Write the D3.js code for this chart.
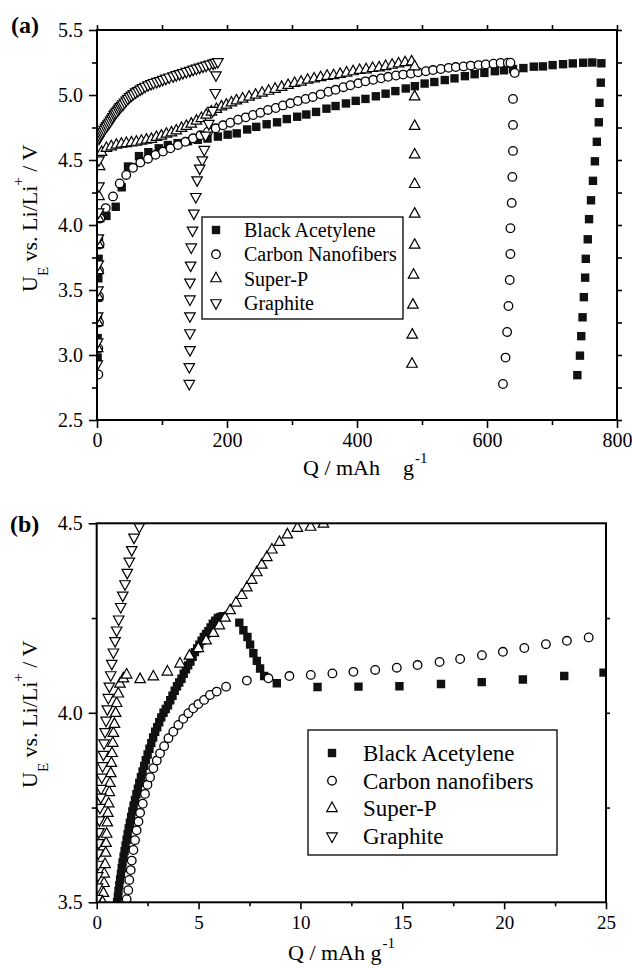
<!DOCTYPE html>
<html><head><meta charset="utf-8">
<script src="https://cdn.jsdelivr.net/npm/d3@7"></script>
<style>
body{margin:0;background:#fff}
svg text{font-family:"Liberation Serif","Times New Roman",serif;fill:#000}
</style>
</head><body>
<svg id="c" width="632" height="968"></svg>
<script>
// ---------------- DATA ----------------
const legendNamesA = ["Black Acetylene","Carbon Nanofibers","Super-P","Graphite"];
const legendNamesB = ["Black Acetylene","Carbon nanofibers","Super-P","Graphite"];
const xTicksA = [0,200,400,600,800];
const yTicksA = [2.5,3.0,3.5,4.0,4.5,5.0,5.5];
const xTicksB = [0,5,10,15,20,25];
const yTicksB = [3.5,4.0,4.5];

// Panel (a): [Q (mAh/g), U (V)]
const aBlack = [[1,2.98],[1,3.13],[1.5,3.29],[2,3.44],[2,3.59],[2.5,3.74],[3,3.89],[14.5,4.07],[28.8,4.14],[38,4.29],[47.7,4.45],[64.6,4.53],[79,4.56],[95,4.59],[109,4.615],[124,4.63],[140,4.645],[155,4.655],[170,4.665],[186,4.68],[201,4.695],[215,4.705],[231,4.735],[245,4.755],[261,4.775],[277,4.79],[292,4.815],[308,4.833],[322,4.85],[337,4.87],[353,4.895],[367,4.915],[383,4.935],[398,4.955],[413,4.97],[429,4.99],[444,5.01],[459,5.03],[475,5.05],[489,5.068],[504,5.088],[519,5.10],[535,5.115],[550,5.128],[566,5.145],[581,5.16],[596,5.17],[612,5.183],[626,5.19],[640,5.2],[656,5.207],[672,5.218],[686,5.22],[701,5.23],[717,5.237],[732,5.243],[748,5.248],[762,5.25],[776,5.244],
 [775,5.095],[773,4.94],[772,4.79],[769,4.64],[766,4.49],[763,4.34],[760,4.19],[757,4.045],[755,3.89],[752,3.74],[751,3.595],[749,3.445],[747,3.29],[745,3.145],[743,2.995],[739,2.845]];
const aCarbon = [[2,2.85],[2,3.05],[3,3.25],[3,3.45],[3,3.65],[4,3.85],[5,4.05],[13.4,4.13],[24.6,4.22],[35,4.32],[45,4.385],[55.4,4.44],[66.7,4.48],[78.5,4.51],[90,4.54],[101.5,4.565],[113,4.59],[124.6,4.615],[136,4.64],[147.7,4.667],[159,4.69],[170.8,4.718],[182.6,4.744],[193.8,4.767],[205,4.787],[217,4.81],[228.8,4.828],[240,4.846],[251.4,4.864],[263,4.885],[275,4.90],[286,4.92],[297.5,4.936],[309,4.954],[321,4.97],[332,4.985],[344,5.005],[356,5.025],[367,5.04],[379,5.06],[390,5.075],[402,5.09],[413,5.105],[425,5.117],[437,5.128],[448,5.14],[460,5.15],[471,5.157],[483,5.165],[494,5.175],[506,5.183],[517,5.192],[529,5.20],[541,5.209],[552,5.215],[564,5.22],[575,5.226],[587,5.23],[598,5.235],[610,5.241],[621,5.246],[632,5.248],[636,5.248],
 [642.6,5.17],[640,4.97],[640,4.77],[640,4.57],[639,4.37],[638,4.17],[636,3.975],[636,3.777],[635,3.577],[633,3.377],[631,3.177],[628.5,2.98],[624.6,2.777]];
const aSuperP = [[1,3.05],[1,3.25],[1.5,3.45],[2,3.65],[2,3.85],[2.5,4.05],[3,4.22],[4,4.45],[7,4.56],[14.5,4.59],[22,4.603],[29.8,4.615],[37.5,4.623],[45.2,4.628],[52.9,4.633],[60.6,4.638],[68.3,4.646],[76,4.654],[83.7,4.66],[91.4,4.675],[99,4.685],[106.8,4.70],[114.5,4.71],[122,4.725],[130,4.744],[137.5,4.76],[145,4.777],[153,4.80],[160.6,4.82],[168,4.846],[176,4.87],[183.7,4.89],[191.4,4.91],[199,4.923],[206.8,4.94],[214.5,4.956],[224,4.97],[234,4.985],[244,5.0],[254,5.015],[264,5.03],[274,5.045],[284,5.06],[294,5.075],[304,5.09],[314,5.10],[324,5.115],[334,5.125],[344,5.135],[354,5.145],[364,5.15],[374,5.16],[384,5.17],[394,5.18],[404,5.19],[414,5.195],[424,5.205],[434,5.21],[444,5.22],[454,5.23],[464,5.24],[474,5.25],[484,5.256],
 [488.7,5.218],[488.7,4.987],[488.7,4.76],[488.7,4.54],[488.7,4.313],[488.7,4.085],[488.7,3.846],[487,3.615],[486,3.385],[485,3.154],[484.6,2.93]];
const aGraphite = [[0.5,2.93],[1,3.1],[1,3.3],[1.5,3.5],[2,3.7],[2,3.9],[2.5,4.1],[3,4.3],[3,4.5],[3,4.667],[4.5,4.68],[6,4.695],[7.5,4.707],[9.2,4.72],[11,4.735],[13,4.75],[15,4.763],[17,4.777],[19,4.79],[21,4.805],[23,4.82],[24.6,4.833],[26.5,4.847],[28,4.86],[30,4.872],[32.3,4.885],[34,4.898],[36,4.91],[38,4.92],[40,4.93],[42.5,4.945],[45,4.96],[47.5,4.973],[50.3,4.987],[53,4.998],[56,5.01],[59.5,5.022],[63,5.033],[66.5,5.044],[70,5.055],[74,5.066],[78.5,5.077],[83,5.087],[87,5.095],[92,5.103],[96.5,5.11],[101,5.119],[106,5.128],[111,5.137],[117,5.146],[122,5.155],[127,5.163],[132,5.171],[137.5,5.18],[143,5.188],[148,5.197],[153,5.205],[158,5.213],[163,5.221],[168,5.228],[173,5.236],[178.5,5.244],[182,5.25],[186,5.256],
 [183,5.154],[182,5.018],[178,4.88],[172,4.78],[167,4.69],[165,4.58],[162,4.50],[158,4.436],[154,4.346],[152,4.218],[149,4.09],[147,3.96],[145,3.83],[144,3.69],[143,3.56],[143,3.43],[143,3.30],[143,3.17],[143,3.04],[142,2.91],[142,2.78]];

// Panel (b)
const bBlack = [[1.0,3.50],[1.04,3.515],[1.07,3.53],[1.11,3.545],[1.15,3.56],[1.19,3.575],[1.23,3.59],[1.27,3.605],[1.32,3.62],[1.37,3.635],[1.42,3.65],[1.47,3.665],[1.52,3.68],[1.57,3.695],[1.63,3.71],[1.69,3.725],[1.75,3.74],[1.81,3.755],[1.88,3.77],[1.95,3.785],[2.02,3.80],[2.09,3.815],[2.17,3.83],[2.25,3.845],[2.33,3.86],[2.41,3.875],[2.50,3.89],[2.59,3.905],[2.68,3.92],[2.77,3.935],[2.87,3.95],[2.97,3.962],[3.07,3.975],[3.17,3.988],[3.28,4.0],[3.39,4.01],[3.50,4.02],[3.61,4.033],[3.72,4.045],[3.83,4.058],[3.94,4.07],[4.05,4.08],[4.16,4.09],[4.27,4.103],[4.38,4.115],[4.49,4.125],[4.60,4.135],[4.71,4.148],[4.82,4.16],[4.93,4.17],[5.04,4.18],[5.15,4.19],[5.26,4.20],[5.37,4.208],[5.48,4.215],[5.59,4.225],[5.70,4.235],[5.82,4.243],[5.95,4.25],[6.08,4.253],[6.2,4.255],
 [7.0,4.238],[7.2,4.218],[7.4,4.2],[7.53,4.18],[7.69,4.157],[7.86,4.137],[8.02,4.117],[8.22,4.097],[8.84,4.078],[10.84,4.068],[12.85,4.069],[14.86,4.07],[16.9,4.076],[18.9,4.081],[20.92,4.088],[22.95,4.097],[24.88,4.106]];
const bCarbon = [[1.47,3.508],[1.55,3.532],[1.6,3.559],[1.67,3.585],[1.72,3.61],[1.8,3.638],[1.88,3.664],[1.96,3.69],[2.05,3.713],[2.13,3.736],[2.26,3.76],[2.37,3.786],[2.49,3.81],[2.62,3.83],[2.78,3.854],[2.95,3.874],[3.11,3.893],[3.31,3.912],[3.52,3.933],[3.76,3.95],[4.01,3.968],[4.25,3.984],[4.5,3.999],[4.74,4.012],[4.99,4.023],[5.27,4.034],[5.56,4.047],[5.89,4.056],[6.35,4.069],[7.37,4.085],[8.43,4.091],[9.46,4.097],[10.51,4.10],[11.57,4.104],[12.6,4.108],[13.67,4.113],[14.73,4.119],[15.75,4.126],[16.83,4.134],[17.84,4.142],[18.91,4.152],[19.94,4.161],[20.99,4.171],[22.05,4.181],[23.08,4.19],[24.15,4.199]];
const bSuperP = [[0.29,3.50],[0.33,3.524],[0.36,3.55],[0.37,3.575],[0.41,3.60],[0.44,3.63],[0.46,3.656],[0.49,3.68],[0.52,3.71],[0.55,3.735],[0.59,3.76],[0.62,3.79],[0.65,3.814],[0.69,3.84],[0.72,3.867],[0.75,3.893],[0.79,3.92],[0.82,3.946],[0.87,3.97],[0.93,3.999],[0.98,4.025],[1.06,4.05],[1.14,4.076],[1.31,4.09],[1.47,4.10],[2.13,4.088],[2.78,4.095],[3.47,4.108],[4.09,4.129],[4.55,4.15],[4.99,4.17],[5.37,4.19],[5.73,4.21],[6.02,4.23],[6.3,4.25],[6.55,4.27],[6.84,4.29],[7.12,4.31],[7.37,4.33],[7.61,4.35],[7.86,4.37],[8.1,4.39],[8.35,4.41],[8.6,4.43],[8.97,4.45],[9.36,4.47],[9.85,4.487],[10.5,4.49],[11.13,4.498]];
const bGraphite = [[2.09,4.491],[1.83,4.463],[1.72,4.43],[1.6,4.40],[1.5,4.37],[1.39,4.34],[1.28,4.31],[1.18,4.28],[1.08,4.247],[0.98,4.218],[0.9,4.19],[0.82,4.16],[0.74,4.13],[0.69,4.10],[0.62,4.07],[0.57,4.04],[0.52,4.01],[0.46,3.98],[0.41,3.95],[0.36,3.92],[0.33,3.89],[0.29,3.86],[0.25,3.83],[0.21,3.80],[0.2,3.777],[0.16,3.75],[0.13,3.717],[0.11,3.686],[0.1,3.657],[0.08,3.63],[0.06,3.60],[0.05,3.57],[0.04,3.54],[0.03,3.51]];

// ---------------- DRAWING ----------------
const svg = d3.select("#c");
const SERIF = '"Liberation Serif","Times New Roman",serif';

const sym = {
  square: s => `M${-s/2},${-s/2}h${s}v${s}h${-s}Z`,
  up: (w,h) => `M0,${-h*2/3}L${w/2},${h/3}L${-w/2},${h/3}Z`,
  down: (w,h) => `M0,${h*2/3}L${w/2},${-h/3}L${-w/2},${-h/3}Z`
};
const styles = [
  {type:"square"}, {type:"circle"}, {type:"up"}, {type:"down"}
];
function drawMarker(g, type, cx, cy){
  if(type==="square") return g.append("path").attr("d",sym.square(8.4)).attr("transform",`translate(${cx},${cy})`).attr("fill","#111").attr("stroke","none");
  if(type==="circle") return g.append("circle").attr("cx",cx).attr("cy",cy).attr("r",4.3).attr("fill","#fff").attr("stroke","#000").attr("stroke-width",1.3);
  if(type==="up") return g.append("path").attr("d",sym.up(10.5,9.5)).attr("transform",`translate(${cx},${cy})`).attr("fill","#fff").attr("stroke","#000").attr("stroke-width",1.2);
  if(type==="down") return g.append("path").attr("d",sym.down(10.5,9.5)).attr("transform",`translate(${cx},${cy})`).attr("fill","#fff").attr("stroke","#000").attr("stroke-width",1.2);
}

function axisG(gen, scale, vals, size, pad, fmt, fs, tr){
  const a = gen(scale).tickValues(vals).tickSizeInner(size).tickSizeOuter(0).tickPadding(pad).tickFormat(fmt || (()=> ""));
  const g = svg.append("g").attr("transform", tr).call(a)
    .attr("font-family", SERIF).attr("font-size", fs);
  g.select(".domain").remove();
  g.selectAll("line").attr("stroke","#000").attr("stroke-width",1.6);
  g.selectAll("text").attr("fill","#000");
  return g;
}

function panel(cfg){
  const x = d3.scaleLinear().domain(cfg.xd).range(cfg.xr);
  const y = d3.scaleLinear().domain(cfg.yd).range(cfg.yr);
  const [L,R] = cfg.xr, [B,T] = cfg.yr;
  const id = "clip"+cfg.name;
  svg.append("clipPath").attr("id",id).append("rect").attr("x",L).attr("y",T).attr("width",R-L).attr("height",B-T);
  const plot = svg.append("g").attr("clip-path",`url(#${id})`);
  cfg.series.forEach((s,i)=>{
    const g = plot.append("g");
    s.forEach(d => drawMarker(g, styles[i].type, x(d[0]), y(d[1])));
  });
  // axes
  axisG(d3.axisBottom, x, cfg.xMajor, cfg.xMajSize, cfg.xPad, cfg.xFmt, cfg.xFs, `translate(0,${B})`);
  axisG(d3.axisBottom, x, cfg.xMinor, cfg.xMinSize, 0, null, 10, `translate(0,${B})`);
  axisG(d3.axisLeft, y, cfg.yMajor, 8, 6, cfg.yFmt, cfg.yFs, `translate(${L},0)`);
  axisG(d3.axisLeft, y, cfg.yMinor, 5, 0, null, 10, `translate(${L},0)`);
  if(cfg.topTicks) axisG(d3.axisTop, x, cfg.topTicks, 5, 0, null, 10, `translate(0,${T})`);
  if(cfg.rightTicks) axisG(d3.axisRight, y, cfg.rightTicks, cfg.rightSize, 0, null, 10, `translate(${R},0)`);
  svg.append("rect").attr("x",L).attr("y",T).attr("width",R-L).attr("height",B-T)
    .attr("fill","none").attr("stroke","#000").attr("stroke-width",2);
  // legend
  const lg = cfg.legend;
  svg.append("rect").attr("x",lg.x).attr("y",lg.y).attr("width",lg.w).attr("height",lg.h)
    .attr("fill","#fff").attr("stroke","#000").attr("stroke-width",1.3);
  lg.names.forEach((n,i)=>{
    const cy = lg.y0 + i*lg.dy;
    drawMarker(svg, styles[i].type, lg.sx, cy);
    svg.append("text").attr("x",lg.tx).attr("y",cy+lg.base).attr("font-size",lg.fs).text(n);
  });
  return {x,y};
}

// panel (a)
panel({
  name:"a", xd:[0,800], xr:[97,617], yd:[2.5,5.5], yr:[420,30],
  series:[aBlack,aCarbon,aSuperP,aGraphite],
  xMajor:xTicksA, xMinor:[100,300,500,700], xMajSize:8, xMinSize:5, xPad:5, xFmt:d3.format("d"), xFs:20,
  yMajor:yTicksA, yMinor:[2.75,3.25,3.75,4.25,4.75,5.25], yFmt:d3.format(".1f"), yFs:20,
  topTicks:d3.range(0,801,100), rightTicks:d3.range(2.5,5.51,0.25), rightSize:5,
  legend:{x:202,y:217,w:201,h:102,names:legendNamesA,y0:230,dy:24.3,sx:216,tx:244,base:7,fs:20}
});
// panel (b)
panel({
  name:"b", xd:[0,25], xr:[96.7,606], yd:[3.5,4.5], yr:[902.3,523.3],
  series:[bBlack,bCarbon,bSuperP,bGraphite],
  xMajor:xTicksB, xMinor:[2.5,7.5,12.5,17.5,22.5], xMajSize:7, xMinSize:4, xPad:6, xFmt:d3.format("d"), xFs:19,
  yMajor:yTicksB, yMinor:[3.75,4.25], yFmt:d3.format(".1f"), yFs:20,
  topTicks:null, rightTicks:[3.75,4.0,4.25], rightSize:4,
  legend:{x:308,y:730,w:249,h:125,names:legendNamesB,y0:753,dy:27.7,sx:332,tx:363,base:8,fs:23}
});

// panel letters
svg.append("text").attr("x",11).attr("y",33).attr("font-size",24).attr("font-weight","bold").text("(a)");
svg.append("text").attr("x",10).attr("y",532).attr("font-size",24).attr("font-weight","bold").text("(b)");

// y labels
function yLabel(x0,y0){
  const t = svg.append("text").attr("transform",`translate(${x0},${y0}) rotate(-90)`).attr("font-size",22);
  t.append("tspan").text("U");
  t.append("tspan").attr("dy",11).attr("font-size",15).text("E");
  t.append("tspan").attr("dy",-11).text("\u00a0vs. Li/Li");
  t.append("tspan").attr("dy",-14).attr("font-size",15).text("+");
  t.append("tspan").attr("dy",14).text("\u00a0/ V");
}
yLabel(37,292);
yLabel(37,788);

// x labels
function xLabel(x0,y0,gX){
  const t = svg.append("text").attr("x",x0).attr("y",y0).attr("font-size",22);
  t.append("tspan").text("Q / mAh");
  const g = t.append("tspan").text("g");
  if(gX) g.attr("x",gX); else g.attr("dx",5.5);
  t.append("tspan").attr("dy",-12).attr("dx",1).attr("font-size",15).text("-1");
}
xLabel(303,475,403);
xLabel(288,960,null);
</script>
</body></html>
